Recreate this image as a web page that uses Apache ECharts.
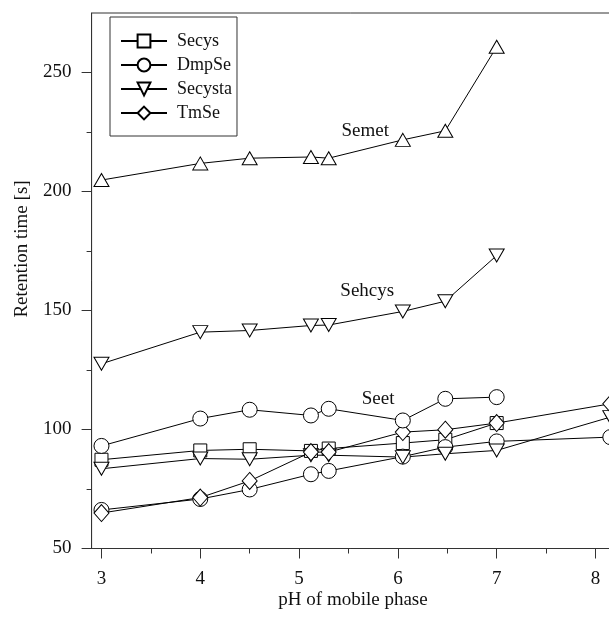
<!DOCTYPE html>
<html>
<head>
<meta charset="utf-8">
<script src="https://cdn.jsdelivr.net/npm/echarts@6/dist/echarts.min.js"></script>
<style>
html,body{margin:0;padding:0;background:#fff;}
#c{width:609px;height:630px;}
</style>
</head>
<body>
<div id="c"></div>
<script>
// ---- data ----
const pH = [3, 4, 4.5, 5.12, 5.3, 6.05, 6.48, 7, 8.15];
const secys   = [87.3, 91.2, 91.7, 91.0, 92.0, 94.3, 95.7, 102.7];
const dmpSe   = [66.2, 70.8, 74.8, 81.2, 82.6, 88.6, 92.6, 95.0, 96.8];
const secysta = [83.5, 87.8, 87.5, 89.2, 89.2, 88.4, 89.8, 91.2, 105.2];
const tmSe    = [64.9, 71.4, 78.4, 90.5, 90.5, 98.9, 99.9, 102.7, 110.8];
const semet   = [204.8, 211.8, 214.0, 214.5, 214.0, 221.7, 225.5, 260.8];
const sehcys  = [127.6, 140.9, 141.6, 143.7, 143.9, 149.6, 153.9, 173.1];
const seet    = [93.1, 104.6, 108.3, 105.9, 108.7, 103.8, 112.9, 113.6];

const xMajorTicks = [3, 4, 5, 6, 7, 8];
const xMinorTicks = [3.5, 4.5, 5.5, 6.5, 7.5, 8.5];
const yMajorTicks = [50, 100, 150, 200, 250];
const yMinorTicks = [75, 125, 175, 225];

const legendNames = ['Secys', 'DmpSe', 'Secysta', 'TmSe'];
const annotations = [
  {name: 'Semet',  x: 5.67, y: 225.5},
  {name: 'Sehcys', x: 5.69, y: 158.0},
  {name: 'Seet',   x: 5.80, y: 112.7}
];

const FONT = '"Liberation Serif", "Times New Roman", serif';
const INK = '#111';

function pairs(ys) { return ys.map((v, i) => [pH[i], v]); }

function mkSeries(name, ys, symbol, size, rotate, ann) {
  const s = {
    name: name,
    type: 'line',
    data: pairs(ys),
    symbol: symbol,
    symbolSize: size,
    symbolRotate: rotate || 0,
    showAllSymbol: true,
    lineStyle: {color: '#000', width: 1},
    itemStyle: {color: '#fff', borderColor: '#000', borderWidth: 1},
    emphasis: {disabled: true},
    animation: false,
    z: 3
  };
  if (ann) {
    s.markPoint = {
      symbol: 'circle', symbolSize: 0, animation: false,
      data: [{coord: [ann.x, ann.y], value: ann.name}],
      label: {show: true, position: 'inside', formatter: ann.name,
              color: INK, fontFamily: FONT, fontSize: 19}
    };
  }
  return s;
}

const chart = echarts.init(document.getElementById('c'), null, {renderer: 'canvas'});

const xMin = 2.9, xMax = 8.5;
const gridLeft = 91.6, pxPerX = 98.8;

chart.setOption({
  backgroundColor: '#fff',
  animation: false,
  grid: {
    left: gridLeft, top: 13, width: (xMax - xMin) * pxPerX, height: 535.5,
    containLabel: false, outerBoundsMode: 'none',
    show: true, borderColor: '#333', borderWidth: 1, backgroundColor: 'transparent'
  },
  legend: {
    data: legendNames,
    orient: 'vertical',
    left: 110, top: 17,
    itemWidth: 46, itemHeight: 16, itemGap: 6,
    padding: [15, 5, 14, 10],
    borderColor: '#333', borderWidth: 1,
    textStyle: {fontFamily: FONT, fontSize: 18, color: INK, padding: [0, 0, 0, 5]},
    selectedMode: false
  },
  xAxis: [
    {
      type: 'value', min: xMin, max: xMax, position: 'bottom',
      axisLine: {show: true, lineStyle: {color: '#333', width: 1}},
      axisTick: {show: true, inside: false, length: 10, customValues: xMajorTicks, lineStyle: {color: '#333'}},
      axisLabel: {customValues: xMajorTicks, margin: 21, fontFamily: FONT, fontSize: 19, color: INK},
      splitLine: {show: false}
    },
    {
      type: 'value', min: xMin, max: xMax, position: 'bottom',
      axisLine: {show: false},
      axisTick: {show: true, inside: false, length: 5, customValues: xMinorTicks, lineStyle: {color: '#333'}},
      axisLabel: {show: false},
      splitLine: {show: false}
    }
  ],
  yAxis: [
    {
      type: 'value', min: 50, max: 275, position: 'left',
      axisLine: {show: true, lineStyle: {color: '#333', width: 1}},
      axisTick: {show: true, inside: false, length: 10, customValues: yMajorTicks, lineStyle: {color: '#333'}},
      axisLabel: {customValues: yMajorTicks, margin: 20, fontFamily: FONT, fontSize: 19, color: INK},
      splitLine: {show: false}
    },
    {
      type: 'value', min: 50, max: 275, position: 'left',
      axisLine: {show: false},
      axisTick: {show: true, inside: false, length: 5, customValues: yMinorTicks, lineStyle: {color: '#333'}},
      axisLabel: {show: false},
      splitLine: {show: false}
    }
  ],
  graphic: [
    {type: 'text', x: 353, y: 600, style: {text: 'pH of mobile phase', fontFamily: FONT, fontSize: 19,
      fill: INK, align: 'center', verticalAlign: 'middle'}},
    {type: 'text', x: 22, y: 249, rotation: Math.PI / 2, style: {text: 'Retention time [s]', fontFamily: FONT,
      fontSize: 19, fill: INK, align: 'center', verticalAlign: 'middle'}}
  ],
  series: [
    mkSeries('Secys', secys, 'rect', 13, 0),
    mkSeries('DmpSe', dmpSe, 'circle', 15, 0),
    mkSeries('Secysta', secysta, 'triangle', [15, 13], 180),
    mkSeries('TmSe', tmSe, 'diamond', [15, 17], 0),
    mkSeries('Semet', semet, 'triangle', [15, 13], 0, annotations[0]),
    mkSeries('Sehcys', sehcys, 'triangle', [15, 13], 180, annotations[1]),
    mkSeries('Seet', seet, 'circle', 15, 0, annotations[2])
  ]
});
</script>
</body>
</html>
